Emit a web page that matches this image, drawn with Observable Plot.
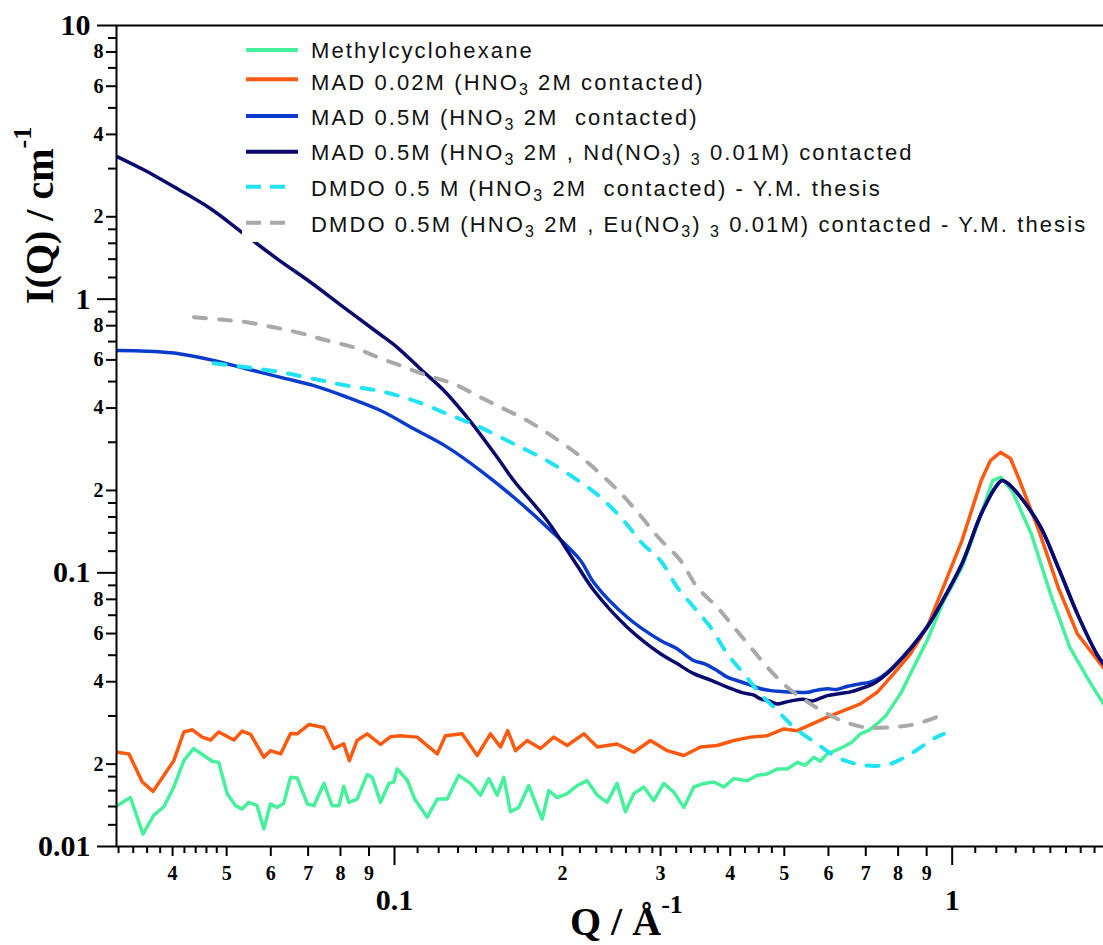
<!DOCTYPE html>
<html>
<head>
<meta charset="utf-8">
<script src="https://cdn.jsdelivr.net/npm/d3@7"></script>
<script src="https://cdn.jsdelivr.net/npm/@observablehq/plot@0.6"></script>
<style>
  body { margin: 0; background: #fff; }
  #wrap { position: relative; width: 1103px; height: 945px; overflow: hidden; background: #fff; }
</style>
</head>
<body>
<div id="wrap"></div>
<script>
// ---------- DATA (Q in Å^-1, I in cm^-1) ----------
const methylQ = [0.0318,0.0336,0.0354,0.0370,0.0386,0.0402,0.0419,0.0436,0.0455,0.0471,0.0484,0.0501,0.0519,0.0533,0.0548,0.0567,0.0583,0.0599,0.0616,0.0633,0.0651,0.0669,0.0698,0.0717,0.0747,0.0773,0.0795,0.0811,0.0828,0.0857,0.0893,0.0912,0.0944,0.0977,0.0997,0.1011,0.1054,0.1087,0.1145,0.1193,0.1243,0.1304,0.1369,0.1426,0.1476,0.1528,0.1570,0.1614,0.1671,0.1741,0.1803,0.1840,0.1891,0.1958,0.2040,0.2126,0.2215,0.2310,0.2406,0.2507,0.2595,0.2686,0.2799,0.2917,0.3040,0.3168,0.3302,0.3441,0.3586,0.3737,0.3895,0.4060,0.4291,0.4472,0.4661,0.4856,0.5061,0.5275,0.545,0.565,0.580,0.5971,0.620,0.640,0.660,0.6848,0.710,0.7337,0.760,0.7856,0.810,0.8418,0.870,0.9019,0.9661,1.0413,1.1276,1.1823,1.2207,1.2801,1.3861,1.5007,1.6244,1.759,1.868];
const methylI = [0.0141,0.0151,0.0111,0.0130,0.0140,0.0165,0.0206,0.0228,0.0215,0.0205,0.0203,0.0156,0.0141,0.0137,0.0145,0.0141,0.0116,0.0143,0.0139,0.0144,0.0179,0.0178,0.0143,0.0141,0.0170,0.0141,0.0141,0.0166,0.0145,0.0149,0.0183,0.0179,0.0145,0.0170,0.0172,0.0192,0.0175,0.0149,0.0128,0.0149,0.0149,0.0182,0.0170,0.0154,0.0177,0.0154,0.0179,0.0134,0.0139,0.0167,0.0139,0.0126,0.0160,0.0151,0.0156,0.0167,0.0174,0.0154,0.0145,0.0170,0.0134,0.0156,0.0165,0.0147,0.0170,0.0158,0.0139,0.0165,0.0170,0.0172,0.0165,0.0177,0.0174,0.0182,0.0184,0.0192,0.0192,0.0203,0.0198,0.0212,0.0205,0.0218,0.0225,0.0232,0.0240,0.0258,0.0266,0.0281,0.0300,0.0332,0.0365,0.0428,0.0490,0.0566,0.0792,0.1048,0.1643,0.2174,0.2235,0.1999,0.1389,0.0838,0.0535,0.0404,0.0332];

const mad002Q = [0.0318,0.0334,0.0353,0.0369,0.0386,0.0402,0.0419,0.0434,0.0452,0.0468,0.0484,0.0515,0.0533,0.0552,0.0583,0.0599,0.0625,0.0651,0.0669,0.0702,0.0747,0.0778,0.0811,0.0830,0.0857,0.0893,0.0944,0.0984,0.1025,0.1098,0.1193,0.1234,0.1322,0.1407,0.1486,0.1549,0.1596,0.1648,0.1729,0.1827,0.1930,0.2040,0.2185,0.2310,0.2507,0.2686,0.2877,0.3083,0.3302,0.3538,0.3790,0.4060,0.4350,0.4661,0.4992,0.5275,0.5971,0.6848,0.7337,0.7856,0.8418,0.9019,0.9619,1.0413,1.1276,1.1711,1.2207,1.2722,1.3213,1.4306,1.549,1.677,1.868];
const mad002I = [0.0221,0.0218,0.0172,0.0159,0.0182,0.0206,0.0262,0.0267,0.0251,0.0245,0.0262,0.0245,0.0264,0.0257,0.0212,0.0224,0.0218,0.0259,0.0258,0.0279,0.0272,0.0228,0.0237,0.0206,0.0244,0.0258,0.0236,0.0252,0.0254,0.0251,0.0218,0.0254,0.0258,0.0215,0.0258,0.0231,0.0265,0.0224,0.0244,0.0228,0.0251,0.0234,0.0258,0.0231,0.0237,0.0221,0.0244,0.0224,0.0215,0.0231,0.0234,0.0244,0.0251,0.0254,0.0269,0.0265,0.0297,0.0332,0.0366,0.0428,0.0506,0.0633,0.0876,0.1312,0.2174,0.2572,0.2758,0.2616,0.2174,0.1427,0.0886,0.0598,0.0450];

const mad05Q = [0.0318,0.0360,0.0413,0.0474,0.0544,0.0625,0.0717,0.0823,0.0944,0.1083,0.1243,0.1426,0.1636,0.1878,0.2156,0.2278,0.2614,0.2999,0.320,0.3441,0.360,0.375,0.3951,0.410,0.430,0.4533,0.470,0.490,0.5200,0.550,0.570,0.5971,0.620,0.650,0.6848,0.710,0.740,0.7856,0.9019,0.9619,1.0413,1.1276,1.2018,1.2303,1.2801,1.4306,1.549,1.677,1.816,1.868];
const mad05I = [0.649,0.645,0.631,0.597,0.556,0.518,0.483,0.438,0.392,0.336,0.288,0.2365,0.1889,0.1468,0.1109,0.0920,0.0688,0.0566,0.0530,0.0478,0.0465,0.0445,0.0416,0.0405,0.0392,0.0377,0.0372,0.0369,0.0366,0.0366,0.0372,0.0377,0.0375,0.0385,0.0393,0.0398,0.0412,0.0455,0.0636,0.0795,0.1079,0.1643,0.2084,0.2174,0.2055,0.1510,0.1048,0.0708,0.0506,0.0465];

const mad05NdQ = [0.0318,0.0355,0.0408,0.0468,0.0537,0.0616,0.0707,0.0811,0.0931,0.1011,0.1113,0.1226,0.1350,0.1528,0.1636,0.1878,0.2126,0.2278,0.2614,0.2999,0.320,0.3441,0.370,0.3951,0.420,0.440,0.4533,0.470,0.4856,0.500,0.5200,0.540,0.560,0.5971,0.630,0.660,0.6848,0.720,0.750,0.7856,0.9019,0.9619,1.0413,1.1276,1.2018,1.2303,1.2801,1.4306,1.549,1.677,1.816,1.868];
const mad05NdI = [3.32,2.97,2.53,2.14,1.733,1.404,1.153,0.934,0.757,0.667,0.556,0.464,0.370,0.2645,0.2174,0.1553,0.1063,0.0862,0.0633,0.0506,0.0468,0.0428,0.0405,0.0382,0.0365,0.0358,0.0346,0.0340,0.0332,0.0336,0.0342,0.0345,0.0340,0.0356,0.0362,0.0368,0.0377,0.0392,0.0415,0.0452,0.0633,0.0792,0.1079,0.1643,0.2084,0.2174,0.2055,0.1510,0.1048,0.0708,0.0506,0.0465];

const dmdoQ = [0.0474,0.0544,0.0625,0.0717,0.0823,0.0944,0.1083,0.1243,0.1426,0.1636,0.1878,0.2156,0.2341,0.2575,0.2787,0.2999,0.3213,0.3441,0.3687,0.3951,0.4230,0.4533,0.4856,0.5200,0.5728,0.6220,0.6848,0.7645,0.8418,0.9269,0.9661];
const dmdoI = [0.583,0.564,0.541,0.511,0.483,0.461,0.426,0.381,0.340,0.296,0.257,0.2143,0.1889,0.1553,0.1276,0.1109,0.0886,0.0749,0.0633,0.0506,0.0428,0.0361,0.0314,0.0273,0.0237,0.0212,0.0199,0.0199,0.0218,0.0248,0.0258];

const dmdoEuQ = [0.0437,0.0488,0.0544,0.0608,0.0679,0.0757,0.0845,0.0918,0.1025,0.1145,0.1277,0.1426,0.1549,0.1729,0.1930,0.2126,0.2305,0.2534,0.2744,0.2971,0.3258,0.3490,0.3790,0.4060,0.4350,0.4661,0.5061,0.5571,0.6220,0.6939,0.7856,0.8654,0.9528];
const dmdoEuI = [0.859,0.842,0.823,0.789,0.751,0.706,0.667,0.622,0.572,0.526,0.490,0.438,0.403,0.360,0.313,0.272,0.2365,0.1970,0.1643,0.1349,0.1109,0.0886,0.0749,0.0633,0.0535,0.0452,0.0382,0.0332,0.0293,0.0273,0.0273,0.0281,0.0301];

// series names and colours
const seriesNames = [
  "Methylcyclohexane",
  "MAD 0.02M (HNO_3 2M contacted)",
  "MAD 0.5M (HNO_3 2M  contacted)",
  "MAD 0.5M (HNO_3 2M , Nd(NO_3) _3 0.01M) contacted",
  "DMDO 0.5 M (HNO_3 2M  contacted) - Y.M. thesis",
  "DMDO 0.5M (HNO_3 2M , Eu(NO_3) _3 0.01M) contacted - Y.M. thesis"
];
const seriesColors = ["#46f09c", "#ff5a0f", "#0a3ccc", "#0a0a6e", "#22e3f3", "#a9a9a9"];
const seriesDashed = [false, false, false, false, true, true];
const seriesSmooth = [false, false, true, true, true, true];

// axis ticks and labels
const xDomain = [0.03173, 1.868];
const yDomain = [0.01, 10];
const xMajorTicks = [0.1, 1];
const xMajorLabels = ["0.1", "1"];
const xLabeledTicks = [0.04,0.05,0.06,0.07,0.08,0.09,0.2,0.3,0.4,0.5,0.6,0.7,0.8,0.9];
const xLabeledText = ["4","5","6","7","8","9","2","3","4","5","6","7","8","9"];
const xMinorTicks = [0.032,0.034,0.036,0.038,0.042,0.044,0.046,0.048,0.11,0.12,0.13,0.14,0.15,0.16,0.17,0.18,0.19,0.215,0.23,0.245,0.26,0.275,0.29,0.32,0.34,0.36,0.38,0.425,0.45,0.475,1.1,1.2,1.3,1.4,1.5,1.6,1.7,1.8];
const yMajorTicks = [0.01, 0.1, 1, 10];
const yMajorLabels = ["0.01", "0.1", "1", "10"];
const yLabeledTicks = [0.02,0.04,0.06,0.08,0.2,0.4,0.6,0.8,2,4,6,8];
const yLabeledText = ["2","4","6","8","2","4","6","8","2","4","6","8"];
const yMinorTicks = [0.012,0.014,0.016,0.018,0.03,0.05,0.07,0.09,0.12,0.14,0.16,0.18,0.3,0.5,0.7,0.9,1.2,1.4,1.6,1.8,3,5,7,9];

// ---------- BUILD ----------
const seriesQ = [methylQ, mad002Q, mad05Q, mad05NdQ, dmdoQ, dmdoEuQ];
const seriesI = [methylI, mad002I, mad05I, mad05NdI, dmdoI, dmdoEuI];
const tables = seriesQ.map((qs, k) => qs.map((q, j) => ({q, i: seriesI[k][j]})));
const drawOrder = [0, 1, 2, 3, 4, 5];

const serif = "Liberation Serif, Times New Roman, serif";
const txt = {fontWeight: "bold", fontFamily: serif, fill: "black", lineAnchor: "middle"};

const W = 1103, H = 945;
const chart = Plot.plot({
  width: W, height: H,
  marginLeft: 116, marginRight: 0, marginTop: 25, marginBottom: 99,
  style: {background: "white", fontFamily: serif, fontWeight: "bold", color: "black", overflow: "visible"},
  x: {type: "log", domain: xDomain},
  y: {type: "log", domain: yDomain},
  marks: [
    ...drawOrder.map(k => Plot.line(tables[k], {
      x: "q", y: "i", stroke: seriesColors[k],
      strokeWidth: seriesDashed[k] ? 4 : 3.5,
      strokeDasharray: seriesDashed[k] ? "12,13" : null,
      curve: seriesSmooth[k] ? "catmull-rom" : "linear",
      strokeLinejoin: "round", clip: true
    })),
    Plot.ruleX([xDomain[0]], {strokeWidth: 2}),
    Plot.ruleY([yDomain[0]], {strokeWidth: 2}),
    Plot.ruleY([yDomain[1]], {strokeWidth: 2}),
    Plot.axisX(xMinorTicks, {anchor: "bottom", tickSize: 7, tickFormat: () => "", strokeWidth: 2, label: null}),
    Plot.axisX(xLabeledTicks, {anchor: "bottom", tickSize: 10, tickFormat: () => "", strokeWidth: 2, label: null}),
    Plot.axisX(xMajorTicks, {anchor: "bottom", tickSize: 19, tickFormat: () => "", strokeWidth: 2, label: null}),
    Plot.axisY(yMinorTicks, {anchor: "left", tickSize: 8, tickFormat: () => "", strokeWidth: 2, label: null}),
    Plot.axisY(yLabeledTicks, {anchor: "left", tickSize: 10, tickFormat: () => "", strokeWidth: 2, label: null}),
    Plot.axisY(yMajorTicks, {anchor: "left", tickSize: 19, tickFormat: () => "", strokeWidth: 2, label: null}),
    Plot.text(xLabeledTicks, {x: d => d, text: (d, j) => xLabeledText[j], frameAnchor: "bottom", dy: 27, fontSize: 20, ...txt}),
    Plot.text(xMajorTicks, {x: d => d, text: (d, j) => xMajorLabels[j], frameAnchor: "bottom", dy: 54, fontSize: 30, ...txt}),
    Plot.text(yLabeledTicks, {y: d => d, text: (d, j) => yLabeledText[j], frameAnchor: "left", dx: -13, textAnchor: "end", fontSize: 20, ...txt}),
    Plot.text(yMajorTicks, {y: d => d, text: (d, j) => yMajorLabels[j], frameAnchor: "left", dx: -26, textAnchor: "end", fontSize: 30, ...txt})
  ]
});

const wrap = document.getElementById("wrap");
wrap.appendChild(chart);

// ---------- OVERLAY: legend + axis titles ----------
const ov = d3.select(wrap).append("svg")
  .attr("width", W).attr("height", H)
  .style("position", "absolute").style("left", "0px").style("top", "0px");

// legend
const legendLineY = [50, 79.3, 116, 151.7, 186.7, 222.7];
const legendBaseY = [58.3, 90, 125, 160, 195.7, 231.7];
ov.append("rect").attr("x", 242).attr("y", 32).attr("width", 861).attr("height", 210).attr("fill", "#fff");
seriesNames.forEach((name, k) => {
  ov.append("line")
    .attr("x1", 246).attr("x2", seriesDashed[k] ? 287 : 298)
    .attr("y1", legendLineY[k]).attr("y2", legendLineY[k])
    .attr("stroke", seriesColors[k]).attr("stroke-width", 4)
    .attr("stroke-dasharray", seriesDashed[k] ? "15,9" : null);
  const t = ov.append("text")
    .attr("x", 311).attr("y", legendBaseY[k])
    .attr("font-family", "Liberation Sans, Arial, sans-serif")
    .attr("font-size", 22).attr("letter-spacing", "2.1px")
    .attr("fill", "#111").style("white-space", "pre");
  const parts = name.split(/_(\d)/);
  parts.forEach((p, j) => {
    if (j % 2 === 1) {
      t.append("tspan").attr("dy", 5).attr("font-size", 16).text(p);
    } else if (p.length) {
      t.append("tspan").attr("dy", j > 0 ? -5 : 0).text(p);
    }
  });
});

// x axis title
const xt = ov.append("text").attr("x", 570).attr("y", 935)
  .attr("font-family", serif).attr("font-weight", "bold").attr("font-size", 40).attr("fill", "#000");
xt.append("tspan").text("Q / Å");
xt.append("tspan").attr("dy", -22).attr("font-size", 26).text("-1");

// y axis title
const yt = ov.append("text").attr("transform", "translate(53,304) rotate(-90)")
  .attr("font-family", serif).attr("font-weight", "bold").attr("font-size", 40).attr("fill", "#000");
yt.append("tspan").text("I(Q) / cm");
yt.append("tspan").attr("dy", -22).attr("font-size", 26).text("-1");
</script>
</body>
</html>
